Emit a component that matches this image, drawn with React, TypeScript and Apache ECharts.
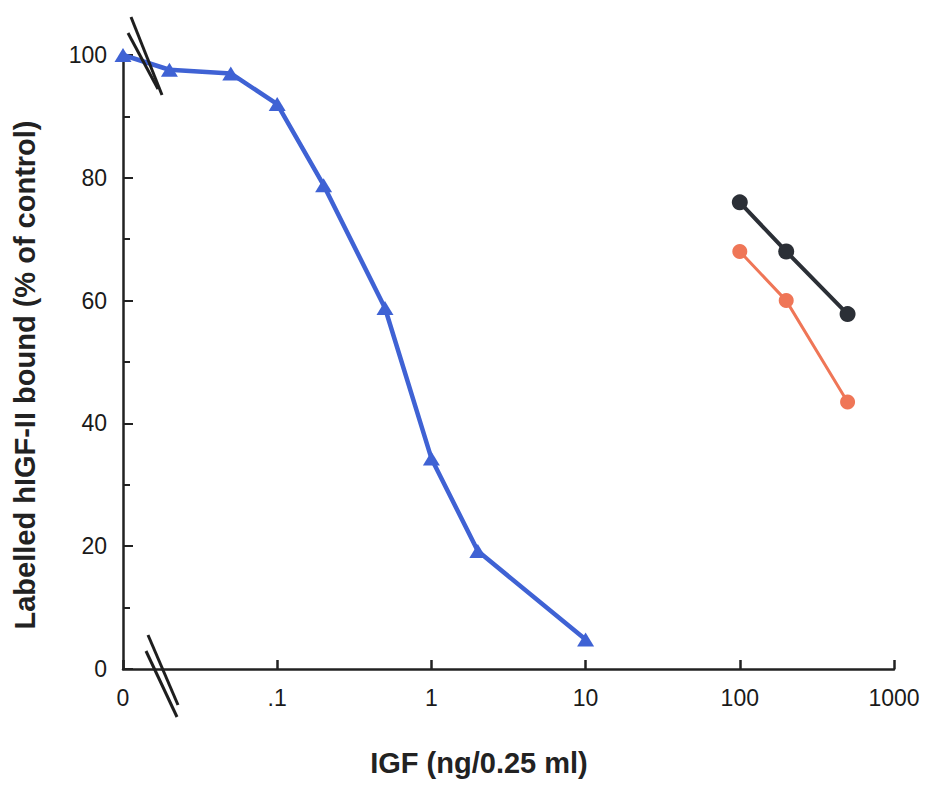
import React, { useEffect, useRef } from "react";
import * as echarts from "echarts";

// ---- data ----
const AXIS_ZERO = 0.01; // the broken axis puts dose "0" one decade below 0.1
const xTickLabels: Record<string, string> = {
  "-2": "0",
  "-1": ".1",
  "0": "1",
  "1": "10",
  "2": "100",
  "3": "1000",
};
const blueDose = [0, 0.02, 0.05, 0.1, 0.2, 0.5, 1, 2, 10];
const blueBound = [100, 97.6, 97, 92, 78.8, 58.8, 34.3, 19.2, 4.8];
const blackDose = [100, 200, 500];
const blackBound = [76, 68, 57.8];
const redDose = [100, 200, 500];
const redBound = [68, 60, 43.5];

const X_TITLE = "IGF (ng/0.25 ml)";
const Y_TITLE = "Labelled hIGF-II bound (% of control)";

const toPoint = (d: number, v: number) => [d === 0 ? AXIS_ZERO : d, v];

export default function App() {
  const ref = useRef<HTMLDivElement>(null);
  useEffect(() => {
    if (!ref.current) return;
    const chart = echarts.init(ref.current, null, { renderer: "svg" });
    const font = "Liberation Sans, Arial, Helvetica, sans-serif";
    const breakStyle = { stroke: "#1e1e1e", lineWidth: 3 };
    chart.setOption({
      animation: false,
      backgroundColor: "#ffffff",
      grid: { left: 123, top: 55, width: 771, height: 614, containLabel: false },
      xAxis: {
        type: "log",
        logBase: 10,
        min: AXIS_ZERO,
        max: 1000,
        splitNumber: 5,
        axisLine: { show: true, lineStyle: { color: "#222", width: 2.5 } },
        axisTick: { show: true, inside: true, length: 9, lineStyle: { color: "#222", width: 2.5 } },
        minorTick: { show: false },
        splitLine: { show: false },
        axisLabel: {
          fontFamily: font,
          fontSize: 23,
          color: "#1a1a1a",
          margin: 17,
          formatter: (v: number) => xTickLabels[String(Math.round(Math.log10(v)))] ?? "",
        },
      },
      yAxis: {
        type: "value",
        min: 0,
        max: 100,
        interval: 20,
        axisLine: { show: true, lineStyle: { color: "#222", width: 2.5 } },
        axisTick: { show: true, inside: true, length: 10, lineStyle: { color: "#222", width: 2 } },
        minorTick: { show: true, splitNumber: 2, length: 7, lineStyle: { color: "#222", width: 2 } },
        splitLine: { show: false },
        axisLabel: { fontFamily: font, fontSize: 23, color: "#1a1a1a", margin: 16 },
      },
      series: [
        {
          type: "line",
          data: blueDose.map((d, i) => toPoint(d, blueBound[i])),
          symbol: "triangle",
          symbolSize: [17, 14],
          lineStyle: { color: "#3f62d4", width: 4.5 },
          itemStyle: { color: "#3f62d4" },
          z: 3,
        },
        {
          type: "line",
          data: blackDose.map((d, i) => toPoint(d, blackBound[i])),
          symbol: "circle",
          symbolSize: 16,
          lineStyle: { color: "#2b2f36", width: 4 },
          itemStyle: { color: "#2b2f36" },
        },
        {
          type: "line",
          data: redDose.map((d, i) => toPoint(d, redBound[i])),
          symbol: "circle",
          symbolSize: 15,
          lineStyle: { color: "#ef7657", width: 3 },
          itemStyle: { color: "#ef7657" },
        },
      ],
      graphic: [
        // axis breaks
        { type: "line", shape: { x1: 131, y1: 17, x2: 162, y2: 95 }, style: breakStyle, z: 10 },
        { type: "line", shape: { x1: 128, y1: 33, x2: 158, y2: 89 }, style: breakStyle, z: 10 },
        { type: "line", shape: { x1: 148, y1: 635, x2: 178, y2: 705 }, style: breakStyle, z: 10 },
        { type: "line", shape: { x1: 146, y1: 651, x2: 177, y2: 717 }, style: breakStyle, z: 10 },
        {
          type: "text",
          x: 479,
          y: 763,
          style: {
            text: X_TITLE,
            fontFamily: font,
            fontWeight: "bold",
            fontSize: 29,
            fill: "#222",
            align: "center",
            verticalAlign: "middle",
          },
        },
        {
          type: "text",
          x: 25,
          y: 375,
          rotation: Math.PI / 2,
          style: {
            text: Y_TITLE,
            fontFamily: font,
            fontWeight: "bold",
            fontSize: 29,
            fill: "#222",
            align: "center",
            verticalAlign: "middle",
          },
        },
      ],
    });
    return () => chart.dispose();
  }, []);
  return (
    <div
      ref={ref}
      style={{ position: "fixed", left: 0, top: 0, width: 926, height: 789, background: "#fff" }}
    />
  );
}
